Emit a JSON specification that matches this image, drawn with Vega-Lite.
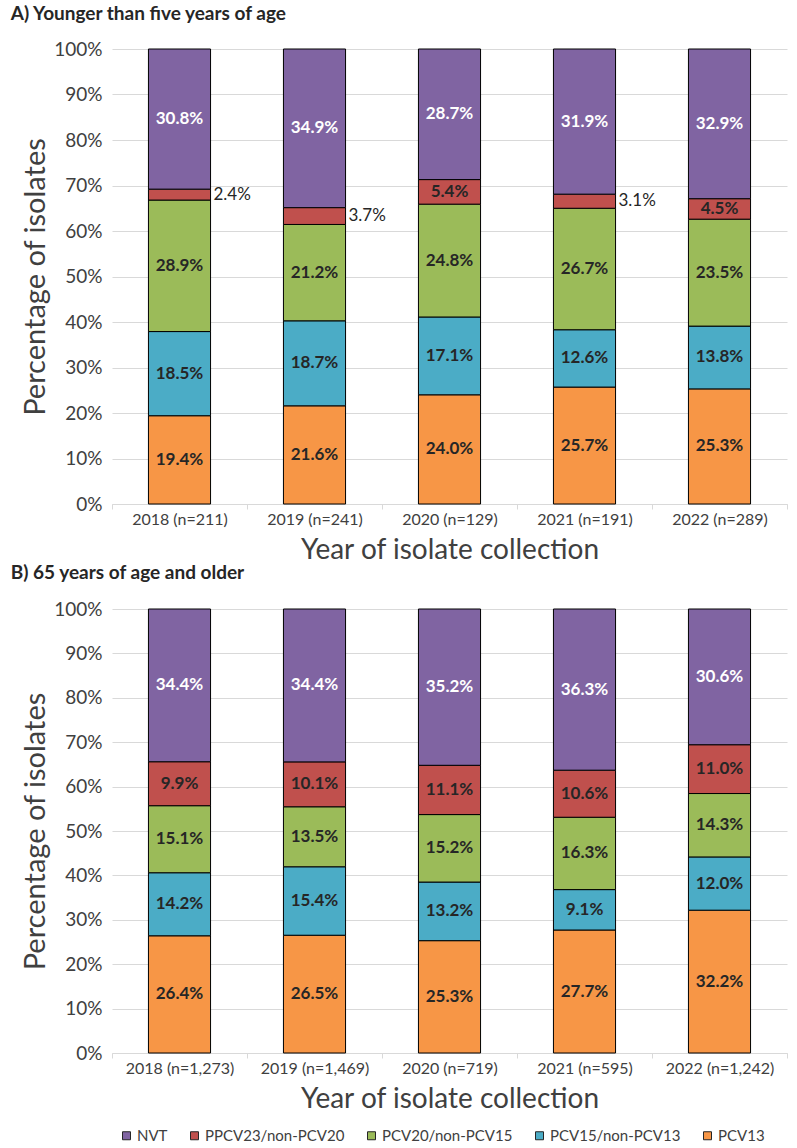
{
  "$schema": "https://vega.github.io/schema/vega-lite/v6.json",
  "padding": {"left": 10, "top": 5, "right": 5, "bottom": 0},
  "background": "white",
  "config": {
    "view": {"stroke": null},
    "font": "Lato",
    "concat": {"spacing": 0},
    "axis": {"labelFont": "Lato", "titleFont": "Lato", "labelColor": "#404040", "titleColor": "#404040", "titleFontWeight": "normal"},
    "title": {"font": "Lato", "fontWeight": "bold", "fontSize": 19, "color": "#262626", "anchor": "start", "frame": "bounds"}
  },
  "data": {"values": [
    {"panel": "A", "year": "2018 (n=211)", "serotype": "PCV13", "value": 0.194},
    {"panel": "A", "year": "2018 (n=211)", "serotype": "PCV15/non-PCV13", "value": 0.185},
    {"panel": "A", "year": "2018 (n=211)", "serotype": "PCV20/non-PCV15", "value": 0.289},
    {"panel": "A", "year": "2018 (n=211)", "serotype": "PPCV23/non-PCV20", "value": 0.024},
    {"panel": "A", "year": "2018 (n=211)", "serotype": "NVT", "value": 0.308},
    {"panel": "A", "year": "2019 (n=241)", "serotype": "PCV13", "value": 0.216},
    {"panel": "A", "year": "2019 (n=241)", "serotype": "PCV15/non-PCV13", "value": 0.187},
    {"panel": "A", "year": "2019 (n=241)", "serotype": "PCV20/non-PCV15", "value": 0.212},
    {"panel": "A", "year": "2019 (n=241)", "serotype": "PPCV23/non-PCV20", "value": 0.037},
    {"panel": "A", "year": "2019 (n=241)", "serotype": "NVT", "value": 0.349},
    {"panel": "A", "year": "2020 (n=129)", "serotype": "PCV13", "value": 0.240},
    {"panel": "A", "year": "2020 (n=129)", "serotype": "PCV15/non-PCV13", "value": 0.171},
    {"panel": "A", "year": "2020 (n=129)", "serotype": "PCV20/non-PCV15", "value": 0.248},
    {"panel": "A", "year": "2020 (n=129)", "serotype": "PPCV23/non-PCV20", "value": 0.054},
    {"panel": "A", "year": "2020 (n=129)", "serotype": "NVT", "value": 0.287},
    {"panel": "A", "year": "2021 (n=191)", "serotype": "PCV13", "value": 0.257},
    {"panel": "A", "year": "2021 (n=191)", "serotype": "PCV15/non-PCV13", "value": 0.126},
    {"panel": "A", "year": "2021 (n=191)", "serotype": "PCV20/non-PCV15", "value": 0.267},
    {"panel": "A", "year": "2021 (n=191)", "serotype": "PPCV23/non-PCV20", "value": 0.031},
    {"panel": "A", "year": "2021 (n=191)", "serotype": "NVT", "value": 0.319},
    {"panel": "A", "year": "2022 (n=289)", "serotype": "PCV13", "value": 0.253},
    {"panel": "A", "year": "2022 (n=289)", "serotype": "PCV15/non-PCV13", "value": 0.138},
    {"panel": "A", "year": "2022 (n=289)", "serotype": "PCV20/non-PCV15", "value": 0.235},
    {"panel": "A", "year": "2022 (n=289)", "serotype": "PPCV23/non-PCV20", "value": 0.045},
    {"panel": "A", "year": "2022 (n=289)", "serotype": "NVT", "value": 0.329},
    {"panel": "B", "year": "2018 (n=1,273)", "serotype": "PCV13", "value": 0.264},
    {"panel": "B", "year": "2018 (n=1,273)", "serotype": "PCV15/non-PCV13", "value": 0.142},
    {"panel": "B", "year": "2018 (n=1,273)", "serotype": "PCV20/non-PCV15", "value": 0.151},
    {"panel": "B", "year": "2018 (n=1,273)", "serotype": "PPCV23/non-PCV20", "value": 0.099},
    {"panel": "B", "year": "2018 (n=1,273)", "serotype": "NVT", "value": 0.344},
    {"panel": "B", "year": "2019 (n=1,469)", "serotype": "PCV13", "value": 0.265},
    {"panel": "B", "year": "2019 (n=1,469)", "serotype": "PCV15/non-PCV13", "value": 0.154},
    {"panel": "B", "year": "2019 (n=1,469)", "serotype": "PCV20/non-PCV15", "value": 0.135},
    {"panel": "B", "year": "2019 (n=1,469)", "serotype": "PPCV23/non-PCV20", "value": 0.101},
    {"panel": "B", "year": "2019 (n=1,469)", "serotype": "NVT", "value": 0.344},
    {"panel": "B", "year": "2020 (n=719)", "serotype": "PCV13", "value": 0.253},
    {"panel": "B", "year": "2020 (n=719)", "serotype": "PCV15/non-PCV13", "value": 0.132},
    {"panel": "B", "year": "2020 (n=719)", "serotype": "PCV20/non-PCV15", "value": 0.152},
    {"panel": "B", "year": "2020 (n=719)", "serotype": "PPCV23/non-PCV20", "value": 0.111},
    {"panel": "B", "year": "2020 (n=719)", "serotype": "NVT", "value": 0.352},
    {"panel": "B", "year": "2021 (n=595)", "serotype": "PCV13", "value": 0.277},
    {"panel": "B", "year": "2021 (n=595)", "serotype": "PCV15/non-PCV13", "value": 0.091},
    {"panel": "B", "year": "2021 (n=595)", "serotype": "PCV20/non-PCV15", "value": 0.163},
    {"panel": "B", "year": "2021 (n=595)", "serotype": "PPCV23/non-PCV20", "value": 0.106},
    {"panel": "B", "year": "2021 (n=595)", "serotype": "NVT", "value": 0.363},
    {"panel": "B", "year": "2022 (n=1,242)", "serotype": "PCV13", "value": 0.322},
    {"panel": "B", "year": "2022 (n=1,242)", "serotype": "PCV15/non-PCV13", "value": 0.120},
    {"panel": "B", "year": "2022 (n=1,242)", "serotype": "PCV20/non-PCV15", "value": 0.143},
    {"panel": "B", "year": "2022 (n=1,242)", "serotype": "PPCV23/non-PCV20", "value": 0.110},
    {"panel": "B", "year": "2022 (n=1,242)", "serotype": "NVT", "value": 0.306}
  ]},
  "resolve": {"scale": {"color": "shared"}},
  "vconcat": [
    {
      "title": {"text": "A) Younger than five years of age", "dx": -11, "offset": 16},
      "width": 675,
      "height": 455,
      "transform": [
        {"filter": "datum.panel == 'A'"},
        {"calculate": "indexof(['PCV13','PCV15/non-PCV13','PCV20/non-PCV15','PPCV23/non-PCV20','NVT'], datum.serotype)", "as": "order"},
        {"stack": "value", "groupby": ["year"], "sort": [{"field": "order", "order": "ascending"}], "offset": "normalize", "as": ["y0", "y1"]},
        {"calculate": "(datum.y0 + datum.y1) / 2", "as": "ymid"}
      ],
      "encoding": {
        "x": {"field": "year", "type": "nominal", "title": "Year of isolate collection",
              "scale": {"paddingInner": 0, "paddingOuter": 0},
              "axis": {"labelAngle": 0, "labelFontSize": 16, "titleFontSize": 28, "tickBand": "extent", "tickSize": 5, "tickColor": "#d9d9d9", "domainColor": "#d9d9d9", "labelPadding": 2, "titlePadding": 9, "grid": false}}
      },
      "layer": [
        {
          "mark": {"type": "bar", "width": {"band": 0.46}, "stroke": "black", "strokeWidth": 1},
          "encoding": {
            "y": {"field": "y0", "type": "quantitative", "scale": {"domain": [0, 1]}, "title": "Percentage of isolates",
                  "axis": {"format": "%", "values": [0,0.1,0.2,0.3,0.4,0.5,0.6,0.7,0.8,0.9,1], "labelFontSize": 19, "titleFontSize": 29, "domain": false, "ticks": false, "gridColor": "#d9d9d9", "labelPadding": 10, "titlePadding": 3}},
            "y2": {"field": "y1"},
            "color": {"field": "serotype", "type": "nominal",
                      "scale": {"domain": ["NVT", "PPCV23/non-PCV20", "PCV20/non-PCV15", "PCV15/non-PCV13", "PCV13"], "range": ["#8064A2", "#C0504D", "#9BBB59", "#4BACC6", "#F79646"]},
                      "legend": {"orient": "bottom", "offset": 8, "padding": 7, "direction": "horizontal", "title": null, "symbolType": "square", "symbolSize": 64, "symbolStrokeColor": "#262626", "symbolStrokeWidth": 1, "labelFont": "Lato", "labelFontSize": 15, "labelColor": "#404040", "labelOffset": 3, "columnPadding": 19}}
          }
        },
        {
          "transform": [{"filter": "datum.value >= 0.04"}],
          "mark": {"type": "text", "font": "Lato", "fontWeight": "bold", "fontSize": 17},
          "encoding": {
            "y": {"field": "ymid", "type": "quantitative"},
            "text": {"field": "value", "format": ".1%"},
            "color": {"condition": {"test": "datum.serotype == 'NVT'", "value": "white"}, "value": "#262626"}
          }
        },
        {
          "transform": [{"filter": "datum.value < 0.04"}],
          "mark": {"type": "text", "font": "Lato", "fontSize": 17, "align": "left", "dx": 34, "color": "#262626"},
          "encoding": {
            "y": {"field": "ymid", "type": "quantitative"},
            "text": {"field": "value", "format": ".1%"}
          }
        }
      ]
    },
    {
      "title": {"text": "B) 65 years of age and older", "dx": -11, "offset": 17},
      "width": 675,
      "height": 444,
      "transform": [
        {"filter": "datum.panel == 'B'"},
        {"calculate": "indexof(['PCV13','PCV15/non-PCV13','PCV20/non-PCV15','PPCV23/non-PCV20','NVT'], datum.serotype)", "as": "order"},
        {"stack": "value", "groupby": ["year"], "sort": [{"field": "order", "order": "ascending"}], "offset": "normalize", "as": ["y0", "y1"]},
        {"calculate": "(datum.y0 + datum.y1) / 2", "as": "ymid"}
      ],
      "encoding": {
        "x": {"field": "year", "type": "nominal", "title": "Year of isolate collection",
              "scale": {"paddingInner": 0, "paddingOuter": 0},
              "axis": {"labelAngle": 0, "labelFontSize": 16, "titleFontSize": 28, "tickBand": "extent", "tickSize": 5, "tickColor": "#d9d9d9", "domainColor": "#d9d9d9", "labelPadding": 2, "titlePadding": 9, "grid": false}}
      },
      "layer": [
        {
          "mark": {"type": "bar", "width": {"band": 0.46}, "stroke": "black", "strokeWidth": 1},
          "encoding": {
            "y": {"field": "y0", "type": "quantitative", "scale": {"domain": [0, 1]}, "title": "Percentage of isolates",
                  "axis": {"format": "%", "values": [0,0.1,0.2,0.3,0.4,0.5,0.6,0.7,0.8,0.9,1], "labelFontSize": 19, "titleFontSize": 29, "domain": false, "ticks": false, "gridColor": "#d9d9d9", "labelPadding": 10, "titlePadding": 3}},
            "y2": {"field": "y1"},
            "color": {"field": "serotype", "type": "nominal",
                      "scale": {"domain": ["NVT", "PPCV23/non-PCV20", "PCV20/non-PCV15", "PCV15/non-PCV13", "PCV13"], "range": ["#8064A2", "#C0504D", "#9BBB59", "#4BACC6", "#F79646"]},
                      "legend": {"orient": "bottom", "offset": 8, "padding": 7, "direction": "horizontal", "title": null, "symbolType": "square", "symbolSize": 64, "symbolStrokeColor": "#262626", "symbolStrokeWidth": 1, "labelFont": "Lato", "labelFontSize": 15, "labelColor": "#404040", "labelOffset": 3, "columnPadding": 19}}
          }
        },
        {
          "transform": [{"filter": "datum.value >= 0.04"}],
          "mark": {"type": "text", "font": "Lato", "fontWeight": "bold", "fontSize": 17},
          "encoding": {
            "y": {"field": "ymid", "type": "quantitative"},
            "text": {"field": "value", "format": ".1%"},
            "color": {"condition": {"test": "datum.serotype == 'NVT'", "value": "white"}, "value": "#262626"}
          }
        }
      ]
    }
  ]
}
